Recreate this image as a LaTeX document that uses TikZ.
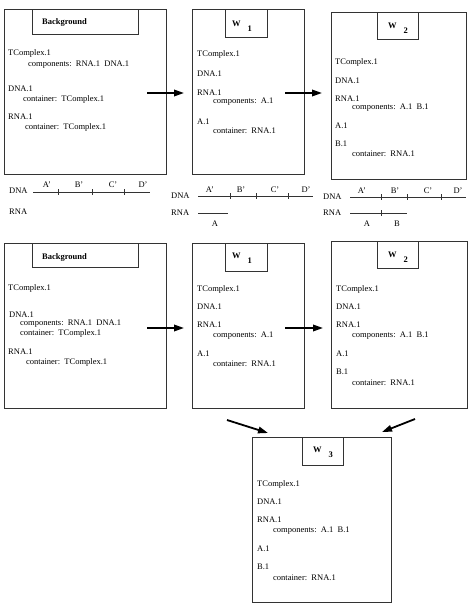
\documentclass[tikz,border=0pt]{standalone}
\usepackage{fontspec}
\setmainfont{Liberation Serif}
\usetikzlibrary{arrows.meta}

\begin{document}
\begin{tikzpicture}[
  x=1pt, y=-1pt,
  >={Triangle[length=10pt, width=6.5pt]},
  world/.style={draw=black!80, line width=0.9pt, anchor=north west,
    inner sep=0pt},
  hdr/.style={world},
  ttl/.style={font=\fontsize{8.5}{10}\selectfont\bfseries, anchor=west,
    inner sep=0pt},
  txt/.style={font=\fontsize{8.5}{10}\selectfont, anchor=west, inner sep=0pt},
  lbl/.style={font=\fontsize{8.5}{10}\selectfont, inner sep=0pt},
  strand/.style={draw=black!80, line width=0.8pt},
  flow/.style={->, line width=1.8pt},
]
\useasboundingbox (0,0) rectangle (470,605);

% === First row ===
\node[world, minimum width=162pt, minimum height=165pt] (bgA) at (4,9) {};
\node[hdr, minimum width=106pt, minimum height=25pt] (bgAhd) at (32,9) {};
\node[ttl] (bgAt) at (42,22) {Background};
\node[txt] (bgA1) at (8,53) {TComplex.1};
\node[txt] (bgA2) at (28,65) {components:\ \ RNA.1\ \ DNA.1};
\node[txt] (bgA3) at (8,89) {DNA.1};
\node[txt] (bgA4) at (23,99) {container:\ \ TComplex.1};
\node[txt] (bgA5) at (8,117) {RNA.1};
\node[txt] (bgA6) at (25,127) {container:\ \ TComplex.1};

\node[world, minimum width=112pt, minimum height=165pt] (wAa) at (192,9) {};
\node[hdr, minimum width=42pt, minimum height=28pt] (wAahd) at (225,9) {};
\node[ttl] (wAat) at (232,26) {W\hspace{7pt}\raisebox{-5pt}{1}};
\node[txt] (wAa1) at (197,54) {TComplex.1};
\node[txt] (wAa2) at (197,74) {DNA.1};
\node[txt] (wAa3) at (197,93) {RNA.1};
\node[txt] (wAa4) at (213,102) {components:\ \ A.1};
\node[txt] (wAa5) at (197,122) {A.1};
\node[txt] (wAa6) at (213,131) {container:\ \ RNA.1};

\node[world, minimum width=135pt, minimum height=167pt] (wAb) at (331,12) {};
\node[hdr, minimum width=41pt, minimum height=27pt] (wAbhd) at (377,12) {};
\node[ttl] (wAbt) at (388,28) {W\hspace{7pt}\raisebox{-5pt}{2}};
\node[txt] (wAb1) at (335,62) {TComplex.1};
\node[txt] (wAb2) at (335,81) {DNA.1};
\node[txt] (wAb3) at (335,99) {RNA.1};
\node[txt] (wAb4) at (352,108) {components:\ \ A.1\ \ B.1};
\node[txt] (wAb5) at (335,126) {A.1};
\node[txt] (wAb6) at (335,144) {B.1};
\node[txt] (wAb7) at (352,154) {container:\ \ RNA.1};

% Arrows
\coordinate (fa1) at (147,93);
\coordinate (fa2) at (184,93);
\coordinate (fa3) at (285,93);
\coordinate (fa4) at (322,93);
\draw[flow] (fa1) -- (fa2);
\draw[flow] (fa3) -- (fa4);

% === Strands ===
\node[txt] (dnaA) at (9,191) {DNA};
\node[txt] (rnaA) at (9,212) {RNA};
\draw[strand] (33,192) -- (150,192);
\draw[strand] (58,189) -- (58,195) (92,189) -- (92,195) (124,189) -- (124,195);
\node[lbl] (dnaA1) at (47,185) {A'};
\node[lbl] (dnaA2) at (79,185) {B'};
\node[lbl] (dnaA3) at (113,185) {C'};
\node[lbl] (dnaA4) at (143,185) {D'};

\node[txt] (dnaB) at (171,196) {DNA};
\node[txt] (rnaB) at (171,213) {RNA};
\draw[strand] (198,196) -- (313,196);
\draw[strand] (230,193) -- (230,199) (256,193) -- (256,199) (288,193) -- (288,199);
\node[lbl] (dnaB1) at (210,190) {A'};
\node[lbl] (dnaB2) at (241,190) {B'};
\node[lbl] (dnaB3) at (275,190) {C'};
\node[lbl] (dnaB4) at (306,190) {D'};
\draw[strand] (198,213) -- (228,213);
\node[lbl] (rnaB1) at (215,224) {A};

\node[txt] (dnaC) at (323,197) {DNA};
\node[txt] (rnaC) at (323,213) {RNA};
\draw[strand] (350,197) -- (466,197);
\draw[strand] (381,194) -- (381,200) (407,194) -- (407,200) (441,194) -- (441,200);
\node[lbl] (dnaC1) at (362,191) {A'};
\node[lbl] (dnaC2) at (395,191) {B'};
\node[lbl] (dnaC3) at (428,191) {C'};
\node[lbl] (dnaC4) at (458,191) {D'};
\draw[strand] (350,213) -- (407,213);
\draw[strand] (381,210) -- (381,216);
\node[lbl] (rnaC1) at (367,224) {A};
\node[lbl] (rnaC2) at (397,224) {B};

% === Second row ===
\node[world, minimum width=162pt, minimum height=165pt] (bgB) at (4,243) {};
\node[hdr, minimum width=106pt, minimum height=24pt] (bgBhd) at (32,243) {};
\node[ttl] (bgBt) at (42,257) {Background};
\node[txt] (bgB1) at (8,288) {TComplex.1};
\node[txt] (bgB2) at (9,315) {DNA.1};
\node[txt] (bgB3) at (20,324) {components:\ \ RNA.1\ \ DNA.1};
\node[txt] (bgB4) at (20,333) {container:\ \ TComplex.1};
\node[txt] (bgB5) at (8,352) {RNA.1};
\node[txt] (bgB6) at (26,362) {container:\ \ TComplex.1};

\node[world, minimum width=112pt, minimum height=165pt] (wBa) at (192,243) {};
\node[hdr, minimum width=42pt, minimum height=28pt] (wBahd) at (225,243) {};
\node[ttl] (wBat) at (232,258) {W\hspace{7pt}\raisebox{-5pt}{1}};
\node[txt] (wBa1) at (197,289) {TComplex.1};
\node[txt] (wBa2) at (197,307) {DNA.1};
\node[txt] (wBa3) at (197,325) {RNA.1};
\node[txt] (wBa4) at (213,336) {components:\ \ A.1};
\node[txt] (wBa5) at (197,354) {A.1};
\node[txt] (wBa6) at (213,364) {container:\ \ RNA.1};

\node[world, minimum width=136pt, minimum height=167pt] (wBb) at (331,241) {};
\node[hdr, minimum width=41pt, minimum height=27pt] (wBbhd) at (377,241) {};
\node[ttl] (wBbt) at (388,257) {W\hspace{7pt}\raisebox{-5pt}{2}};
\node[txt] (wBb1) at (336,289) {TComplex.1};
\node[txt] (wBb2) at (336,307) {DNA.1};
\node[txt] (wBb3) at (336,325) {RNA.1};
\node[txt] (wBb4) at (352,336) {components:\ \ A.1\ \ B.1};
\node[txt] (wBb5) at (336,354) {A.1};
\node[txt] (wBb6) at (336,372) {B.1};
\node[txt] (wBb7) at (352,383) {container:\ \ RNA.1};

% Arrows
\coordinate (fb1) at (147,328);
\coordinate (fb2) at (184,328);
\coordinate (fb3) at (285,328);
\coordinate (fb4) at (323,328);
\draw[flow] (fb1) -- (fb2);
\draw[flow] (fb3) -- (fb4);

% === Merged world ===
\node[world, minimum width=139pt, minimum height=165pt] (wC) at (252,437) {};
\node[hdr, minimum width=41pt, minimum height=28pt] (wChd) at (302,437) {};
\node[ttl] (wCt) at (313,452) {W\hspace{7pt}\raisebox{-5pt}{3}};
\node[txt] (wC1) at (257,484) {TComplex.1};
\node[txt] (wC2) at (257,502) {DNA.1};
\node[txt] (wC3) at (257,520) {RNA.1};
\node[txt] (wC4) at (273,531) {components:\ \ A.1\ \ B.1};
\node[txt] (wC5) at (257,549) {A.1};
\node[txt] (wC6) at (257,567) {B.1};
\node[txt] (wC7) at (273,578) {container:\ \ RNA.1};

\coordinate (fc1) at (227,420);
\coordinate (fc2) at (268,433);
\coordinate (fc3) at (415,419);
\coordinate (fc4) at (382,432);
\draw[flow] (fc1) -- (fc2);
\draw[flow] (fc3) -- (fc4);

\end{tikzpicture}
\end{document}
